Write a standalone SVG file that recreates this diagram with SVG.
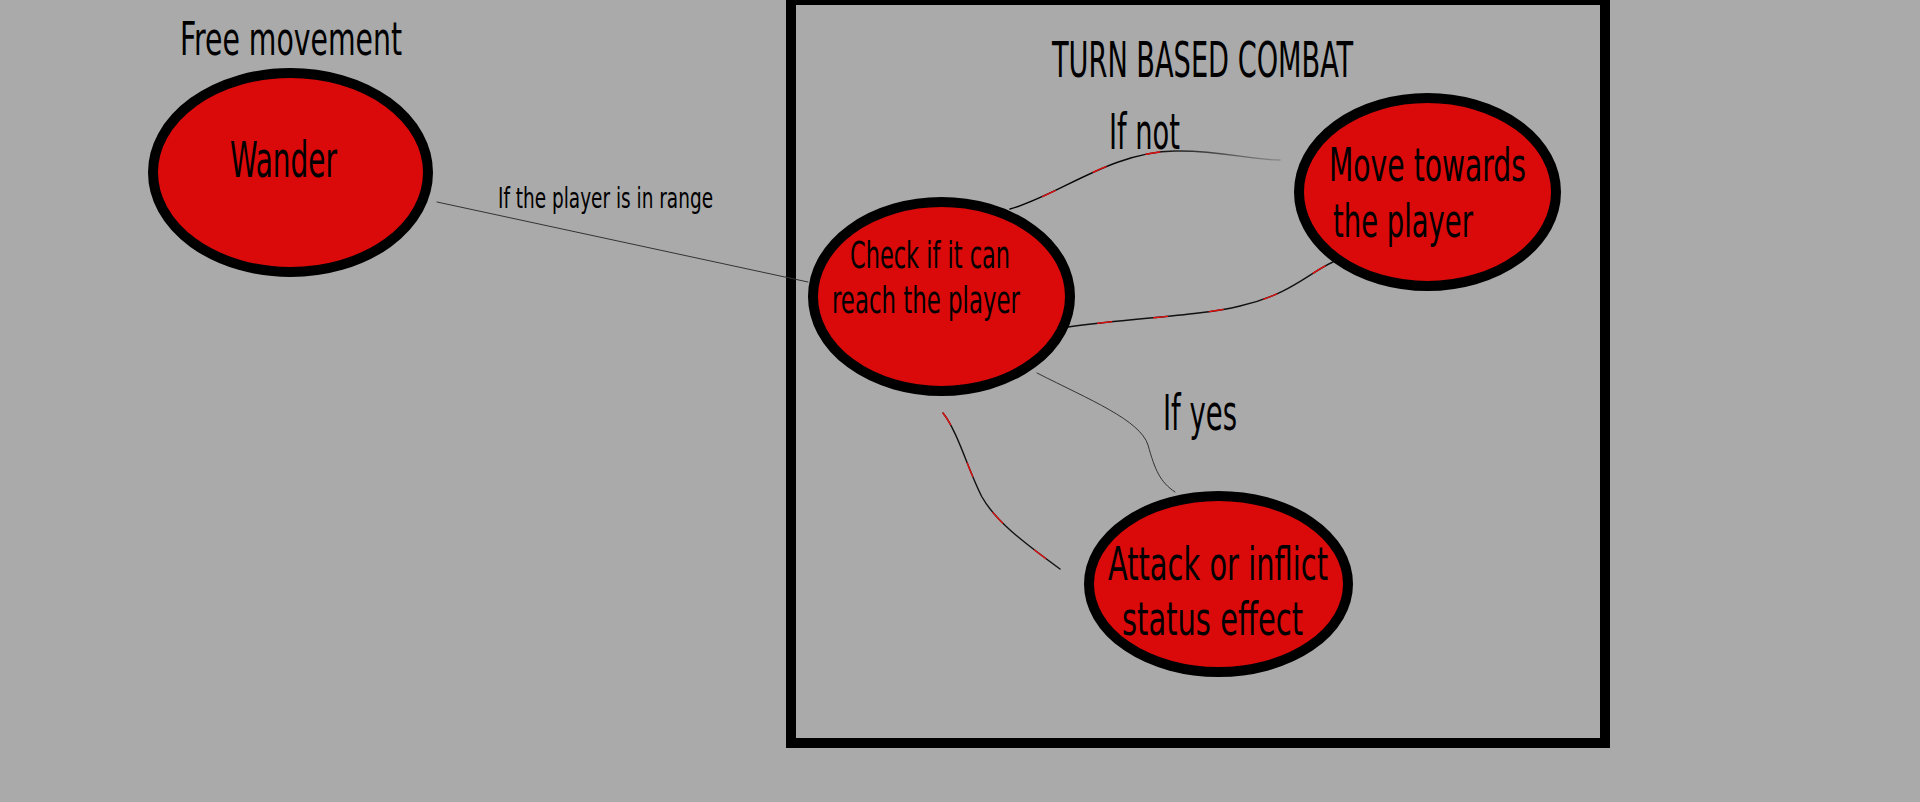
<svg xmlns="http://www.w3.org/2000/svg" width="1920" height="802" viewBox="0 0 1920 802">
<defs>
<style>
.node{fill:#da0a0a;stroke:#000;stroke-width:10}
.t{font-family:"DejaVu Sans Condensed","Liberation Sans Narrow","Liberation Sans",sans-serif;fill:#000}
.c{fill:none;stroke-linecap:round}
.thin{stroke:#333;stroke-width:1}
.dark{stroke:#111;stroke-width:1.4}
.red{stroke:#e01010;stroke-width:1.4;stroke-dasharray:14 42}
</style>
<linearGradient id="fade" x1="0" y1="0" x2="1" y2="0">
<stop offset="0" stop-color="#000"/>
<stop offset="0.55" stop-color="#111"/>
<stop offset="1" stop-color="#8a8a8a"/>
</linearGradient>
</defs>
<rect x="0" y="0" width="1920" height="802" fill="#aaaaaa"/>
<g id="combat-box">
<rect x="791" y="0" width="814" height="743" fill="none" stroke="#000" stroke-width="10"/>
<text class="t" x="1052" y="77" font-size="49" textLength="301" lengthAdjust="spacingAndGlyphs">TURN BASED COMBAT</text>
</g>
<g id="free-movement-label">
<text class="t" x="180" y="55" font-size="46" textLength="222" lengthAdjust="spacingAndGlyphs">Free movement</text>
</g>
<g id="connectors">
<line class="c thin" x1="437" y1="202" x2="808" y2="282"/>
<text class="t" x="498" y="208" font-size="29" textLength="215" lengthAdjust="spacingAndGlyphs">If the player is in range</text>
<path class="c" stroke="url(#fade)" stroke-width="1.4" d="M1010,209 C1060,195 1110,152 1175,151 C1220,150 1250,160 1280,160"/>
<path class="c red" stroke-width="1.2" stroke-dasharray="3 55" stroke-dashoffset="-35" d="M1010,209 C1060,195 1110,152 1175,151"/>
<text class="t" x="1109" y="149" font-size="49" textLength="71" lengthAdjust="spacingAndGlyphs">If not</text>
<path class="c dark" d="M1068,327 C1130,318 1200,316 1240,306 C1290,295 1310,272 1333,262"/>
<path class="c red" stroke-dasharray="16 38" stroke-dashoffset="-30" d="M1068,327 C1130,318 1200,316 1240,306 C1290,295 1310,272 1333,262"/>
<path class="c thin" d="M1037,373 C1090,400 1140,420 1148,445 C1155,470 1160,482 1175,492"/>
<text class="t" x="1163" y="430" font-size="49" textLength="74" lengthAdjust="spacingAndGlyphs">If yes</text>
<path class="c dark" d="M943,413 C958,432 968,470 982,497 C995,520 1020,540 1060,569"/>
<path class="c red" stroke-dasharray="0 22 55 40 20 200" d="M943,413 C958,432 968,470 982,497 C995,520 1020,540 1060,569"/>
</g>
<g id="wander">
<ellipse class="node" cx="290.5" cy="172.5" rx="137.5" ry="99.5"/>
<text class="t" x="230" y="177" font-size="49" textLength="107" lengthAdjust="spacingAndGlyphs">Wander</text>
</g>
<g id="check">
<ellipse class="node" cx="941.5" cy="296.5" rx="128.5" ry="94.5"/>
<text class="t" x="850" y="268" font-size="38" textLength="160" lengthAdjust="spacingAndGlyphs">Check if it can</text>
<text class="t" x="832" y="313" font-size="38" textLength="188" lengthAdjust="spacingAndGlyphs">reach the player</text>
</g>
<g id="move">
<ellipse class="node" cx="1427.5" cy="192" rx="128.5" ry="94"/>
<text class="t" x="1329" y="181" font-size="46" textLength="197" lengthAdjust="spacingAndGlyphs">Move towards</text>
<text class="t" x="1333" y="237" font-size="46" textLength="140" lengthAdjust="spacingAndGlyphs">the player</text>
</g>
<g id="attack">
<ellipse class="node" cx="1218.5" cy="584" rx="129.5" ry="88"/>
<text class="t" x="1108" y="580" font-size="46" textLength="220" lengthAdjust="spacingAndGlyphs">Attack or inflict</text>
<text class="t" x="1122" y="635" font-size="46" textLength="181" lengthAdjust="spacingAndGlyphs">status effect</text>
</g>
</svg>
